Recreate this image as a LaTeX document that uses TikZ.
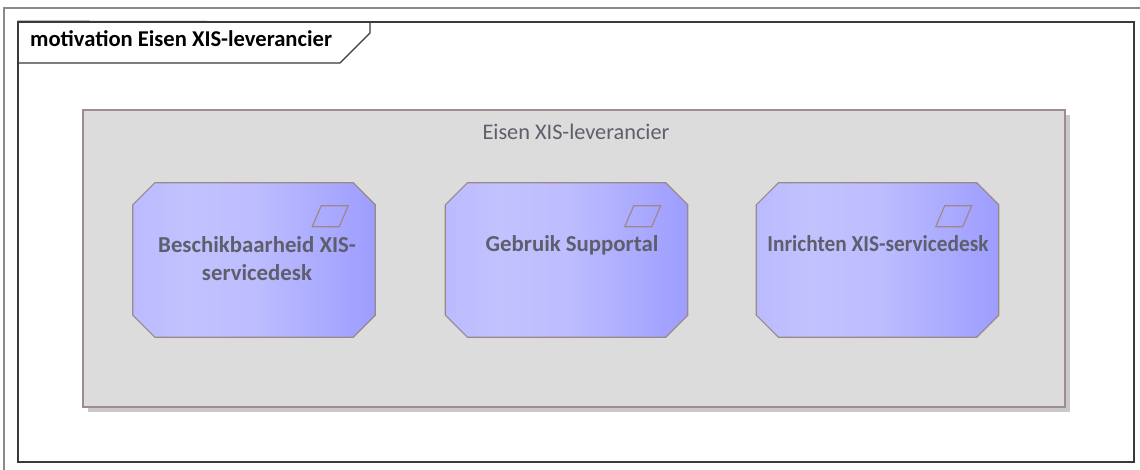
\documentclass[tikz,border=0pt]{standalone}
\usepackage{fontspec}
\usepackage{graphicx}
\setmainfont{Carlito}
\usetikzlibrary{calc}
\definecolor{frameline}{HTML}{3A3A3A}
\definecolor{outerline}{HTML}{8A8A8A}
\definecolor{pkgfill}{HTML}{DCDCDC}
\definecolor{pkgline}{HTML}{A08C8C}
\definecolor{pkgshadow}{HTML}{C9C9C9}
\definecolor{eltline}{HTML}{9C8888}
\definecolor{eltA}{HTML}{BABAFF}
\definecolor{eltB}{HTML}{C2C2FF}
\definecolor{eltM}{HTML}{BDBDFF}
\definecolor{eltC}{HTML}{9D9DFF}
\definecolor{txtgrey}{HTML}{5E5E6C}
\pgfdeclarehorizontalshading{eltgrad}{100bp}{color(0bp)=(eltA); color(25bp)=(eltA); color(36bp)=(eltB); color(50bp)=(eltM); color(75bp)=(eltC); color(100bp)=(eltC)}
\newcommand{\motelement}[3]{%
  \node[eltbox] (#1) at (#2,#3) {};
  \path[eltshape] ($(#1.north west)+(22,0)$) -- ($(#1.north east)+(-22,0)$) -- ($(#1.north east)+(0,22)$)
     -- ($(#1.south east)+(0,-22)$) -- ($(#1.south east)+(-22,0)$) -- ($(#1.south west)+(22,0)$)
     -- ($(#1.south west)+(0,-22)$) -- ($(#1.north west)+(0,22)$) -- cycle;
  \draw[elticon] ($(#1.north east)+(-54,23)$) -- ($(#1.north east)+(-27,23)$) -- ($(#1.north east)+(-36,44)$) -- ($(#1.north east)+(-63,44)$) -- cycle;
}
\begin{document}
\begin{tikzpicture}[x=1pt,y=-1pt,
  eltbox/.style={draw=none, minimum width=242pt, minimum height=154pt, inner sep=0pt},
  eltshape/.style={draw=eltline, line width=1.2pt, shading=eltgrad},
  elticon/.style={draw=eltline, line width=1.2pt},
  elttext/.style={font=\fontsize{22.8}{28}\selectfont\bfseries, text=txtgrey, align=center, anchor=base, inner sep=0pt},
  pkgbox/.style={draw=pkgline, fill=pkgfill, line width=1.2pt, minimum width=982pt, minimum height=297pt, inner sep=0pt},
  pkgtitle/.style={font=\fontsize{22.3}{26}\selectfont, text=txtgrey, anchor=base, inner sep=0pt},
  headtext/.style={font=\fontsize{22.6}{26}\selectfont\bfseries, text=black, anchor=base west, inner sep=0pt}
]
\useasboundingbox (0,0) rectangle (1140,470);
\fill[white] (0,0) rectangle (1140,470);
% outer lines
\coordinate (oA) at (4,470);
\coordinate (oB) at (4,8);
\coordinate (oC) at (1140,8);
\draw[outerline, line width=1.3pt] (oA) -- (oB) -- (oC);
% diagram frame
\node[draw=frameline, line width=1.5pt, minimum width=1116pt, minimum height=440pt, inner sep=0pt] (frame) at (576,242) {};
\draw[frameline, line width=1.3pt] (frame.north west) -- (370,22) -- (370,33) -- (340,63) -- (18,63);
\node[headtext] (head) at (30,47) {motivation Eisen XIS-leverancier};
% package
\fill[pkgshadow] (88,115) rectangle (1070,412);
\node[pkgbox] (pkg) at (574,258.5) {};
\node[pkgtitle] (pkgt) at (576,140) {Eisen XIS-leverancier};
% elements
\motelement{e1}{254}{260}
\motelement{e2}{566.5}{260}
\motelement{e3}{877.5}{260}
\node[elttext] (t1) at (257,280) {Beschikbaarheid XIS-\\servicedesk};
\node[elttext] (t2) at (572,252) {Gebruik Supportal};
\node[elttext] (t3) at (878,252) {\scalebox{0.935}[1]{Inrichten XIS-servicedesk}};
\end{tikzpicture}
\end{document}
